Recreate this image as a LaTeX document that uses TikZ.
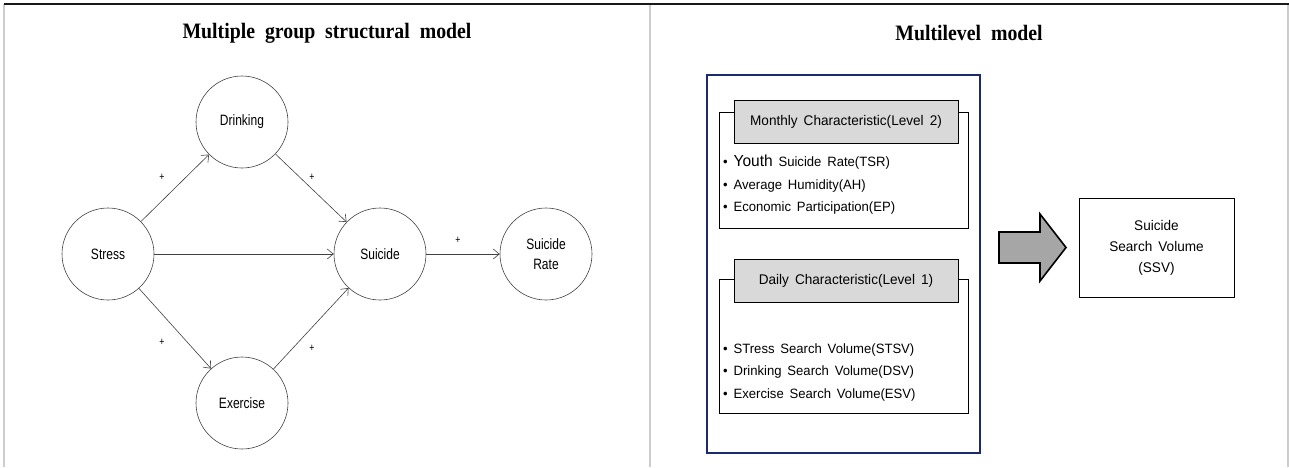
\documentclass[tikz,border=0pt]{standalone}
\usepackage{fontspec}
\setmainfont{Liberation Sans}
\newfontfamily\titlefont[FakeStretch=0.9,WordSpace=2]{Liberation Serif}
\newfontfamily\circfont[FakeStretch=0.8]{Liberation Sans}
\newfontfamily\boxfont[FakeStretch=0.97,WordSpace=1.6]{Liberation Sans}
\usetikzlibrary{arrows.meta,positioning,calc}

\definecolor{boxnavy}{RGB}{28,42,104}
\definecolor{headgray}{RGB}{217,217,217}
\definecolor{blockgray}{RGB}{166,166,166}
\definecolor{framegray}{RGB}{205,205,205}

\begin{document}
\begin{tikzpicture}[x=1pt,y=-1pt,
  var/.style={circle,draw=black!75,line width=0.6pt,minimum size=92pt,inner sep=0pt,
    align=center,font=\circfont\fontsize{15}{20}\selectfont},
  path/.style={-{Straight Barb[length=6pt,width=10pt]},draw=black!75,line width=0.6pt},
  sign/.style={font=\circfont\fontsize{11}{11}\selectfont,inner sep=1pt},
  title/.style={font=\titlefont\bfseries\fontsize{22}{24}\selectfont},
  head/.style={draw,fill=headgray,line width=0.8pt,minimum width=224pt,minimum height=43pt,
    font=\boxfont\fontsize{14}{16}\selectfont},
  items/.style={anchor=west,align=left,inner sep=0pt,font=\boxfont\fontsize{13.5}{22.5}\selectfont}]
\useasboundingbox (0,0) rectangle (1289,467);

% Frame and divider
\draw[framegray,line width=1.5pt] (4,4) -- (4,467);
\draw[framegray,line width=1.5pt] (650,4) -- (650,467);
\draw[framegray,line width=1.5pt] (1288,4) -- (1288,467);
\draw[black!90,line width=1.5pt] (4,4) -- (1289,4);

% Titles
\node[title] (ltitle) at (327,33) {Multiple group structural model};
\node[title] (rtitle) at (969,33) {Multilevel model};

% Path model
\node[var] (drink)  at (242,122) {Drinking};
\node[var] (stress) at (108,254) {Stress};
\node[var] (suic)   at (380,254) {Suicide};
\node[var] (rate)   at (546,254) {Suicide\\Rate};
\node[var] (exer)   at (242,403) {Exercise};

\draw[path] (stress) -- node[sign,xshift=-13pt,yshift=11pt] {+} (drink);
\draw[path] (drink) -- node[sign,xshift=1pt,yshift=11pt] {+} (suic);
\draw[path] (stress) -- (suic);
\draw[path] (stress) -- node[sign,xshift=-13pt,yshift=-14pt] {+} (exer);
\draw[path] (exer) -- node[sign,xshift=1pt,yshift=-20pt] {+} (suic);
\draw[path] (suic) -- node[sign,xshift=-5pt,yshift=14pt] {+} (rate);

% Multilevel model
\node[draw=boxnavy,line width=2pt,minimum width=273pt,minimum height=378pt,anchor=north west] (outer) at (706,74) {};

% Level 2
\draw[line width=0.8pt] (719,112) rectangle (968,228);
\node[head] (mhead) at (846,121.5) {Monthly Characteristic(Level 2)};
\node[items] (mlist) at (723,185) {\textbullet\ {\fontsize{16}{16}\selectfont Youth} Suicide Rate(TSR)\\
  \textbullet\ Average Humidity(AH)\\
  \textbullet\ Economic Participation(EP)};

% Level 1
\draw[line width=0.8pt] (719,279) rectangle (968,413);
\node[head] (dhead) at (846,281) {Daily Characteristic(Level 1)};
\node[items] (dlist) at (723,372) {\textbullet\ STress Search Volume(STSV)\\
  \textbullet\ Drinking Search Volume(DSV)\\
  \textbullet\ Exercise Search Volume(ESV)};

% Block arrow
\coordinate (tail) at (999,247.5);
\coordinate (tip)  at (1066,247.5);
\draw[fill=blockgray,line width=1.6pt,line join=miter]
  ($(tail)+(0,-15.5)$) -- ++(41,0) -- ++(0,-18) -- (tip) -- ++(-26,33.5) -- ++(0,-18) -- ++(-41,0) -- cycle;

% Outcome
\node[draw,line width=0.8pt,minimum width=155pt,minimum height=99pt,align=center,
  font=\boxfont\fontsize{14}{21}\selectfont] (ssv) at (1156.5,247.5) {Suicide\\Search Volume\\(SSV)};
\end{tikzpicture}
\end{document}
